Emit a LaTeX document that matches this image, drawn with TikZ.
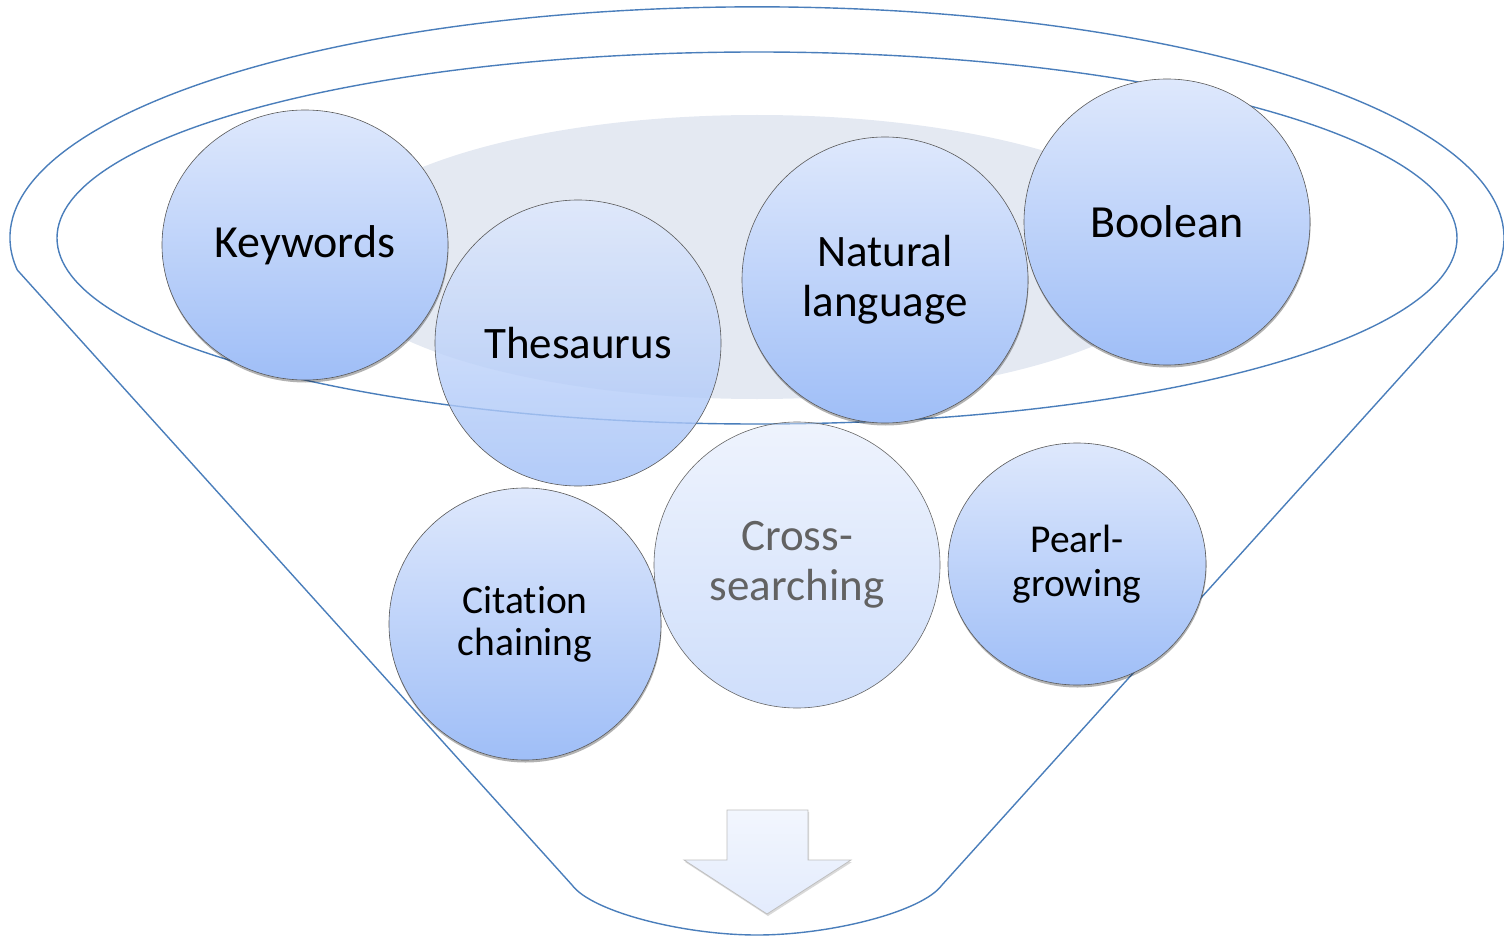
\documentclass[tikz,border=0pt]{standalone}
\usepackage{fontspec}
\setmainfont{Carlito}[Ligatures=NoCommon]
\usetikzlibrary{shadows,shapes.geometric}
\definecolor{funnelblue}{HTML}{4A7EBB}
\definecolor{ctop}{HTML}{DEE8FC}
\definecolor{cbot}{HTML}{9FBEF7}
\definecolor{greyshadow}{HTML}{E4E9F2}
\definecolor{crossgrey}{HTML}{626262}
\tikzset{
  funnelline/.style={draw=funnelblue, line width=1.4pt},
  bubble/.style={ellipse, inner sep=0pt, align=center, text=black,
    top color=ctop, bottom color=cbot, draw=black!65, line width=0.6pt},
  bubbleshadow/.style={drop shadow={shadow xshift=0.5pt, shadow yshift=-2.5pt, opacity=0.3, fill=black}},
  arrowshape/.style={top color=white!60!ctop, bottom color=ctop!85, draw=black!25, line width=0.8pt}
}
\begin{document}
\begin{tikzpicture}[x=1pt, y=-1pt]
\useasboundingbox (0,0) rectangle (1504,936);
% grey shadow ellipse
\fill[greyshadow] (757,257) ellipse [x radius=432, y radius=142];
% inner ellipse
\draw[funnelline] (757,238) ellipse [x radius=700, y radius=186];
% funnel outline
\draw[funnelline, line join=round]
  (17.3,270) arc[start angle=172, end angle=368, x radius=747, y radius=231]
  -- (942,885) .. controls (922,912) and (830,935) .. (757,935)
  .. controls (684,935) and (592,912) .. (572,885) -- cycle;
% arrow
\path[arrowshape, drop shadow={shadow xshift=1pt, shadow yshift=-2pt, opacity=0.15, fill=black}]
  (727,810) -- (808,810) -- (808,860) -- (851,860) -- (767,914)
  -- (684,860) -- (727,860) -- cycle;
% bubbles
\node[bubble, bubbleshadow, minimum width=286pt, minimum height=270pt, font=\fontsize{46}{50}\selectfont] (kw) at (305,245) {Keywords};
\node[bubble, minimum width=286pt, minimum height=286pt, fill opacity=0.8, text opacity=1, font=\fontsize{45}{50}\selectfont] (th) at (578,343) {Thesaurus};
\node[bubble, bubbleshadow, minimum width=286pt, minimum height=286pt, font=\fontsize{45}{50}\selectfont] (nl) at (885,280) {Natural\\language};
\node[bubble, bubbleshadow, minimum width=286pt, minimum height=286pt, font=\fontsize{46}{50}\selectfont] (bo) at (1167,222) {Boolean};
\node[bubble, bubbleshadow, minimum width=272pt, minimum height=272pt, font=\fontsize{39.5}{42}\selectfont] (cc) at (525,624) {Citation\\chaining};
\node[bubble, minimum width=286pt, minimum height=286pt, fill opacity=0.5, draw=black!60, text opacity=1, text=crossgrey, font=\fontsize{45}{50}\selectfont] (cs) at (797,565) {Cross-\\searching};
\node[bubble, bubbleshadow, minimum width=258pt, minimum height=242pt, font=\fontsize{39.5}{44}\selectfont] (pg) at (1077,564) {Pearl-\\growing};
\end{tikzpicture}
\end{document}
